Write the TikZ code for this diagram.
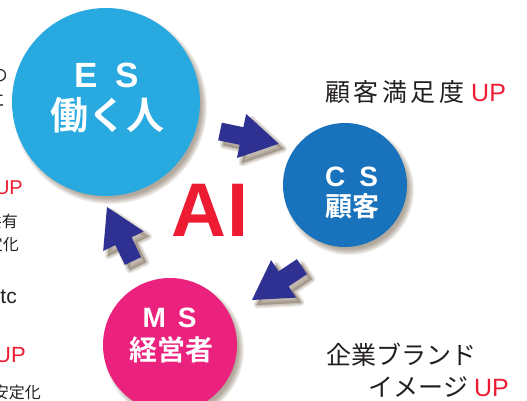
\documentclass[tikz,border=0pt]{standalone}
\usepackage{fontspec}
\setmainfont{Liberation Sans}
\newfontfamily\jp{Noto Sans CJK JP}
\newfontfamily\jpb{Noto Sans CJK JP Bold}
\definecolor{esblue}{RGB}{40,170,225}
\definecolor{csblue}{RGB}{24,115,188}
\definecolor{mspink}{RGB}{234,34,125}
\definecolor{navy}{RGB}{46,49,146}
\definecolor{upred}{RGB}{237,28,50}
\definecolor{ink}{RGB}{35,31,32}
\definecolor{shadowc}{RGB}{110,92,70}
\newcommand\softcircle[3]{%
  \foreach \i in {1,...,7}{\fill[shadowc,opacity=0.10] (#1+4,#2+5) circle ({#3-4+\i});}}
\newcommand\arrowpoly{(0,-9) -- (22,-9) -- (22,-22.5) -- (60,0) -- (22,22.5) -- (22,9) -- (0,9) -- cycle}
\newcommand\blockarrow[3]{%
  \begin{scope}[shift={(#1+5,#2+5)},rotate=#3]
    \foreach \lw in {1,3,5,7}{\filldraw[shadowc,opacity=0.13,line width=\lw pt,line join=round] \arrowpoly;}
  \end{scope}
  \begin{scope}[shift={(#1,#2)},rotate=#3]
    \fill[navy] \arrowpoly;
  \end{scope}}
\tikzset{
  bubble/.style={circle,inner sep=0pt},
  wt/.style={text=white,inner sep=0pt},
  dark/.style={text=ink,inner sep=0pt},
}
\begin{document}
\begin{tikzpicture}[x=1pt,y=-1pt]
\useasboundingbox (0,0) rectangle (527,401);
\clip (0,0) rectangle (527,401);
% shadows
\softcircle{106}{102}{94}
\softcircle{345}{185}{62}
\softcircle{170}{345}{67}
% circles
\node[bubble,fill=esblue,minimum size=188pt] (es) at (106,102) {};
\node[bubble,fill=csblue,minimum size=124pt] (cs) at (345,185) {};
\node[bubble,fill=mspink,minimum size=134pt] (ms) at (170,345) {};
% arrows
\blockarrow{220}{131.5}{-11.8}
\blockarrow{301.9}{266.7}{-146.3}
\blockarrow{133}{261}{115.7}
% circle texts
\node[wt,font=\fontsize{35}{40}\selectfont\bfseries] (esl) at (107,75.5) {E\hspace{18pt}S};
\node[wt,font=\jpb\fontsize{38}{40}\selectfont] (esj) at (107.5,115) {働く人};
\node[wt,font=\fontsize{28}{32}\selectfont\bfseries] (csl) at (351.5,177) {C\hspace{14pt}S};
\node[wt,font=\jpb\fontsize{27}{30}\selectfont] (csj) at (352.5,206.5) {顧客};
\node[wt,font=\fontsize{28}{32}\selectfont\bfseries] (msl) at (169.5,318) {M\hspace{12pt}S};
\node[wt,font=\jpb\fontsize{28}{30}\selectfont] (msj) at (171,349.5) {経営者};
% AI
\node[inner sep=0pt,text=upred,font=\fontsize{76}{80}\selectfont\bfseries] (ai) at (210,210) {A\kern2ptI};
% right texts
\node[dark,anchor=west,font=\jp\fontsize{25}{30}\selectfont] (cst) at (325,92.5) {顧\kern3.5pt客\kern3.5pt満\kern3.5pt足\kern3.5pt度\kern7pt{\rmfamily\color{upred}UP}};
\node[dark,anchor=west,font=\jp\fontsize{25}{30}\selectfont] (ms1) at (326,355) {企業ブランド};
\node[dark,anchor=east,font=\jp\fontsize{25}{30}\selectfont] (ms2) at (509,387) {イメージ\kern6pt{\rmfamily\color{upred}UP}};
% left cropped texts
\node[dark,anchor=east,font=\jp\fontsize{17}{20}\selectfont] (l1) at (8,75) {社員の};
\node[dark,anchor=east,font=\jp\fontsize{17}{20}\selectfont] (l2) at (5,100) {満足度に};
\node[inner sep=0pt,anchor=east,text=upred,font=\fontsize{20}{24}\selectfont] (l3) at (23,188) {UP};
\node[dark,anchor=east,font=\jp\fontsize{16}{20}\selectfont] (l4) at (18,221) {情報共有};
\node[dark,anchor=east,font=\jp\fontsize{16}{20}\selectfont] (l5) at (19,244) {品質安定化};
\node[dark,anchor=east,font=\fontsize{21}{24}\selectfont] (l6) at (17,297) {etc};
\node[inner sep=0pt,anchor=east,text=upred,font=\fontsize{22}{26}\selectfont] (l7) at (26,355) {UP};
\node[dark,anchor=east,font=\jp\fontsize{16}{20}\selectfont] (l8) at (41,392) {経営安定化};
\end{tikzpicture}
\end{document}
